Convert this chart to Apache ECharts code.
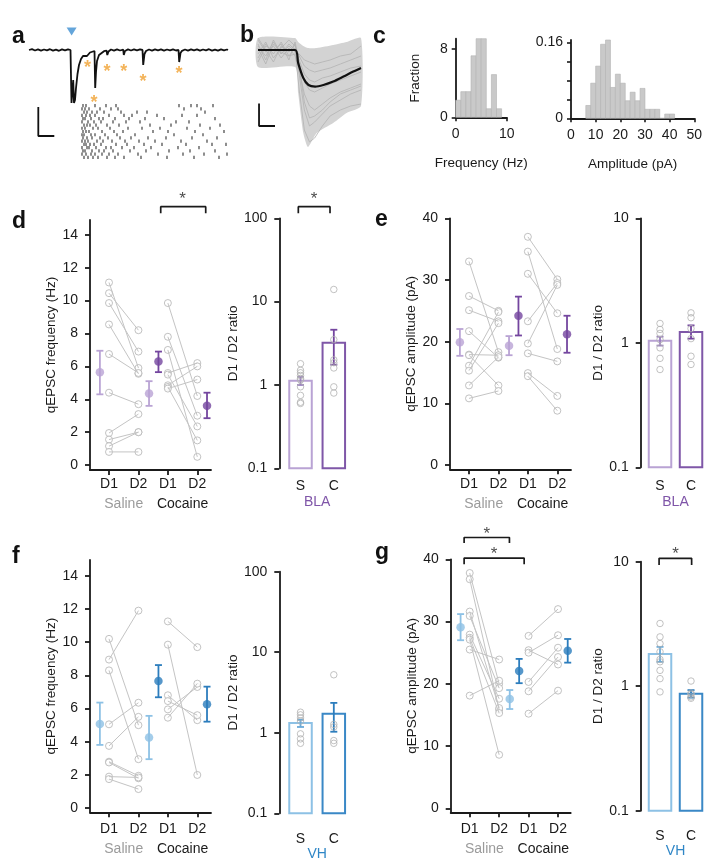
<!DOCTYPE html>
<html><head><meta charset="utf-8">
<script src="https://cdn.jsdelivr.net/npm/echarts@6/dist/echarts.min.js"></script>
<style>html,body{margin:0;padding:0;background:#fff}#c{width:712px;height:860px}</style>
</head><body><div id="c"></div>
<script>
// ================= DATA =================
// panel a: example trace (time units, current units), events and raster
const traceT=[0,3,6,9,12,15,18,21,24,27,30,33,36,39,41.5,42.5,43.5,44.2,45,46,47,48.5,50,52,54,56,58,59,61,63,65.5,66.2,67,68,70,72,75,77.5,78.3,79.5,82,85,88,91,94.2,94.8,96,99,102,105,108,111,113.5,114.2,115.5,117,120,123,126,129,132,135,138,141,144,147,149.5,150.2,151.5,153,156,159,162,165,168,171,174,177,180,183,186,189,192,195,198,199];
const traceV=[0,0.8,-0.5,0.6,-0.7,0.5,-0.4,0.8,-0.6,0.4,-0.8,0.6,-0.3,0.7,0,-53,-53,-30,-53,-50,-38,-24,-15,-9,-6,-4.5,-6,-4,-2.5,-1.5,-1,-38,-22,-11,-5,-3,-1.2,-0.5,-5,-1.5,0.5,-0.6,0.7,-0.5,0.3,-5,-1,0.6,-0.5,0.7,-0.4,0.6,0,-15,-4,-1,0.5,-0.6,0.7,-0.4,0.6,-0.7,0.5,-0.3,0.7,-0.5,0,-12,-3,-0.8,0.5,-0.6,0.7,-0.4,0.6,-0.7,0.5,-0.4,0.8,-0.6,0.4,-0.7,0.6,-0.4,0.5,0];
const stimTime=42.6, stimLevel=18.5;
const eventTimes=[58.4,65,78,94.7,114,150];
const eventStarLevel=[-12.7,-48.3,-16.7,-16.7,-26.7,-19];
const rasterRows=[
 [54,57,66,77,87,150,162,168,184],
 [53,56,60,71,82,89,155,172],
 [55,58,63,68,75,92,108,118,176],
 [53,57,61,66,80,95,103,128,153,168],
 [54,56,62,70,74,86,100,116,135,186],
 [53,59,65,72,84,97,111,147,160],
 [55,58,61,67,78,90,121,142,171,191],
 [53,56,64,69,81,99,113,131,158,181],
 [54,57,60,73,85,94,124,139,166,195],
 [53,55,62,66,76,88,106,145,174],
 [54,58,63,71,79,91,102,119,137,163,188],
 [53,56,59,68,74,83,96,110,126,152,178],
 [55,57,61,65,72,87,98,115,133,157,183,197],
 [53,58,60,67,77,82,93,105,122,149,170],
 [54,56,63,70,75,84,101,117,140,161,186],
 [53,57,62,66,73,80,89,109,129,154,175,198],
 [55,59,64,69,78,86,95,112,138,165,190]
];
const aScaleT=[9.3,9.3,25.3], aScaleV=[-57,-86,-86];
// panel b: overlay of events (ms, pA)
const bEnvT=[0,7.2,7.8,8.8,9.7,11.4,14.6,17.2,20];
const bUpper=[6,6,4,2,1,1,2.5,4,6];
const bLower=[-8.5,-8.5,-21.5,-41.5,-48.5,-41.5,-36.5,-31.5,-28];
const bTrT=[0,1.5,3,4.5,6,7.2,8,9,10,11,12.5,14,16,18,20];
const bTraces=[
 [2,-3,4,-2,3,0,-20,-40,-46,-44,-38,-33,-30,-28,-27],
 [-4,3,-2,4,-3,1,-12,-30,-38,-36,-32,-28,-25,-22,-20],
 [5,-1,2,-4,1,-3,-10,-22,-28,-30,-27,-24,-21,-19,-17],
 [-6,2,0,3,-5,4,-6,-16,-20,-21,-19,-17,-15,-13,-11],
 [3,-5,5,-2,2,-1,-5,-12,-15,-16,-14,-13,-11,-9,-8],
 [-2,4,-4,1,5,2,-3,-8,-10,-11,-10,-9,-7,-5,-3],
 [1,-7,3,-1,-3,-2,-2,-5,-6,-7,-6,-5,-3,-2,2],
 [6,0,-6,2,-1,3,-8,-26,-34,-33,-30,-26,-22,-20,-18]
];
const bMeanT=[0,7.2,7.8,8.8,9.8,11.1,12.7,14.6,16.6,18.5,20];
const bMeanV=[0,0,-6.5,-14,-17.5,-18.3,-17.5,-15.8,-13.3,-10.8,-9];
const bScaleT=[0.2,0.2,3.3], bScaleV=[-26.7,-38,-38];
// panel c: histograms
const freqBinStart=0, freqBinWidth=1;
const freqFraction=[2,3,3,7.2,9.2,9.2,1,5,1];
const ampBinStart=6, ampBinWidth=2;
const ampFraction=[0.027,0.074,0.110,0.156,0.165,0.065,0.093,0.074,0.037,0.055,0.037,0.063,0.019,0.019,0.019,0,0.009,0.009];
// shared labels
const dayLabels=['D1','D2','D1','D2'];
const groupLabels=['Saline','Cocaine'];
const ratioLabels=['S','C'];
// panel d (BLA frequency)
const dSalD1=[11.1,10.45,9.85,8.55,6.75,4.4,1.95,1.55,1.15,0.8];
const dSalD2=[5.9,8.2,6.9,5.55,5.6,3.7,3.1,2.0,2.0,0.8];
const dCocD1=[9.85,7.8,7.0,5.6,5.5,4.85,4.75,4.65];
const dCocD2=[4.2,3.0,0.5,6.2,2.35,6.0,1.5,5.2];
const dMean=[5.65,4.35,6.3,3.6], dLo=[4.3,3.6,5.65,2.85], dHi=[6.95,5.1,6.9,4.4];
const dRatioS=[1.8,1.5,1.4,1.3,1.2,1.15,0.95,0.75,0.62,0.6];
const dRatioC=[14,3.5,2.0,1.85,1.6,0.95,0.8];
const dRatioMean=[1.12,3.2], dRatioLo=[1.0,1.75], dRatioHi=[1.25,4.6];
// panel e (BLA amplitude)
const eSalD1=[33.0,27.4,25.1,21.7,17.9,17.8,16.1,15.3,12.9,10.8];
const eSalD2=[18.3,25.0,23.3,17.4,17.8,12.9,24.8,23.0,17.5,12.0];
const eCocD1=[37.0,34.6,31.0,23.3,19.7,18.1,14.9,14.4];
const eCocD2=[30.1,18.8,24.6,29.5,29.2,16.8,11.2,8.8];
const eMean=[19.9,19.35,24.2,21.2], eLo=[17.7,17.8,21.0,18.2], eHi=[22.05,20.9,27.3,24.2];
const eRatioS=[1.43,1.28,1.19,1.06,0.91,0.75,0.61];
const eRatioC=[1.74,1.59,1.30,1.08,0.78,0.67];
const eRatioMean=[1.04,1.22], eRatioLo=[0.95,1.08], eRatioHi=[1.12,1.38];
// panel f (VH frequency)
const fSalD1=[10.2,8.95,8.3,5.05,3.75,2.8,2.75,1.9,1.75];
const fSalD2=[5.0,11.9,2.95,6.35,5.5,1.95,1.8,1.85,1.15];
const fCocD1=[11.25,9.85,6.8,6.45,5.95,5.45];
const fCocD2=[9.7,2.0,5.3,5.6,7.3,7.5];
const fMean=[5.07,4.25,7.66,6.26], fLo=[3.81,2.95,6.68,5.21], fHi=[6.36,5.56,8.62,7.32];
const fRatioS=[1.8,1.67,1.53,1.4,0.97,0.84,0.74];
const fRatioC=[5.25,1.27,1.18,0.8,0.74];
const fRatioMean=[1.32,1.72], fRatioLo=[1.18,1.03], fRatioHi=[1.45,2.35];
// panel g (VH amplitude)
const gSalD1=[37.8,36.8,31.6,30.9,27.9,27.4,27.1,25.5,18.1];
const gSalD2=[20.0,15.8,16.1,19.3,17.6,15.3,8.6,23.9,20.5];
const gCocD1=[27.7,25.4,25.0,20.3,18.8,15.2];
const gCocD2=[32.0,23.1,27.8,25.8,24.3,18.9];
const gMean=[29.07,17.56,22.06,25.3], gLo=[27.0,15.95,20.1,23.4], gHi=[31.2,19.0,24.0,27.2];
const gRatioS=[3.19,2.49,2.2,1.89,1.64,1.57,1.34,1.15,0.90];
const gRatioC=[1.10,0.88,0.86,0.82,0.80];
const gRatioMean=[1.81,0.87], gRatioLo=[1.57,0.81], gRatioHi=[2.07,0.93];

// ================= STYLE / LAYOUT =================
const FONT='"Liberation Sans", Arial, Helvetica, sans-serif';
const INK='#1a1a1a';
const LP='#b9a3d4', DP='#74469f', LB='#8dc1e5', DB='#2c7dbd', PTC='#b3b3b3', LNC='#c4c4c4';
const X_UNIT=29.43, X_MIN=0.354;
const MEAN_X=[0.69,2.36,2.68,4.33];

const grids=[], xAxes=[], yAxes=[], series=[];
function addGrid(g){ g.outerBoundsMode='none'; g.containLabel=false; return grids.push(g)-1; }

function errRender(color,cap,lw){
  return function(p,api){
    const x=api.value(0), lo=api.value(1), hi=api.value(2);
    const a=api.coord([x,lo]), b=api.coord([x,hi]);
    const st={stroke:color,lineWidth:lw};
    return {type:'group',children:[
      {type:'line',shape:{x1:a[0],y1:a[1],x2:b[0],y2:b[1]},style:st},
      {type:'line',shape:{x1:a[0]-cap,y1:a[1],x2:a[0]+cap,y2:a[1]},style:st},
      {type:'line',shape:{x1:b[0]-cap,y1:b[1],x2:b[0]+cap,y2:b[1]},style:st}]};
  };
}
function bracket(xi,yi,b){
  series.push({type:'line',xAxisIndex:xi,yAxisIndex:yi,data:[[b.x1,b.yLeg],[b.x1,b.yTop],[b.x2,b.yTop],[b.x2,b.yLeg]],
    symbol:'none',clip:false,silent:true,lineStyle:{color:INK,width:1.7},z:5});
  series.push({type:'scatter',xAxisIndex:xi,yAxisIndex:yi,data:[[b.xs,b.ys]],symbolSize:1,clip:false,silent:true,
    itemStyle:{color:'rgba(0,0,0,0)'},label:{show:true,position:'inside',formatter:'*',fontSize:17,color:INK,offset:[0,4],fontFamily:FONT},z:5});
}
function pairData(a,b,x1,x2){ const o=[]; a.forEach((v,i)=>{o.push([x1,v],[x2,b[i]],[x1,'-']);}); return o; }

function pairedPanel(c){
  const gi=addGrid({left:c.left,top:c.top,width:c.width,height:c.height});
  const xmax=X_MIN+c.width/X_UNIT;
  const xi=xAxes.push({gridIndex:gi,type:'value',min:X_MIN,max:xmax,
    axisLine:{show:true,onZero:false,lineStyle:{color:INK,width:1.8}},
    axisTick:{show:true,customValues:[1,2,3,4],length:5,lineStyle:{color:INK,width:1.8}},
    axisLabel:{show:true,customValues:[1,2,3,4],formatter:v=>dayLabels[Math.round(v)-1],fontSize:14,color:INK,margin:c.xm,fontFamily:FONT},
    splitLine:{show:false}})-1;
  xAxes.push({gridIndex:gi,type:'value',min:X_MIN,max:xmax,position:'bottom',offset:20,
    axisLine:{show:false},axisTick:{show:false},splitLine:{show:false},
    axisLabel:{show:true,customValues:[1.5,3.5],margin:c.xm,
      formatter:v=>v<2?'{s|'+groupLabels[0]+'}':'{c|'+groupLabels[1]+'}',
      rich:{s:{color:'#9b9b9b',fontSize:14,fontFamily:FONT},c:{color:INK,fontSize:14,fontFamily:FONT}}}});
  const yi=yAxes.push({gridIndex:gi,type:'value',min:c.ymin,max:c.ymax,
    axisLine:{show:true,onZero:false,lineStyle:{color:INK,width:1.8}},
    axisTick:{show:true,customValues:c.ticks,length:5,lineStyle:{color:INK,width:1.8}},
    axisLabel:{show:true,customValues:c.ticks,fontSize:14,color:INK,margin:12,fontFamily:FONT},
    splitLine:{show:false},name:c.yName,nameLocation:'middle',nameGap:c.ng,
    nameTextStyle:{fontSize:13.5,color:INK,fontFamily:FONT}})-1;
  series.push({type:'line',xAxisIndex:xi,yAxisIndex:yi,data:pairData(c.s1,c.s2,1,2).concat(pairData(c.c1,c.c2,3,4)),
    symbol:'none',connectNulls:false,silent:true,lineStyle:{color:LNC,width:1}});
  series.push({type:'scatter',xAxisIndex:xi,yAxisIndex:yi,silent:true,symbol:'circle',symbolSize:7,
    data:[].concat(c.s1.map(v=>[1,v]),c.s2.map(v=>[2,v]),c.c1.map(v=>[3,v]),c.c2.map(v=>[4,v])),
    itemStyle:{color:'#fff',borderColor:PTC,borderWidth:1}});
  [[0,1,c.light],[2,3,c.dark]].forEach(([i,j,col])=>{
    series.push({type:'custom',xAxisIndex:xi,yAxisIndex:yi,silent:true,
      data:[[MEAN_X[i],c.lo[i],c.hi[i]],[MEAN_X[j],c.lo[j],c.hi[j]]],encode:{x:0,y:[1,2]},
      renderItem:errRender(col,3.5,1.8),z:3});
    series.push({type:'scatter',xAxisIndex:xi,yAxisIndex:yi,silent:true,symbolSize:8.5,
      data:[[MEAN_X[i],c.mean[i]],[MEAN_X[j],c.mean[j]]],itemStyle:{color:col},z:4});
  });
  (c.brackets||[]).forEach(b=>bracket(xi,yi,b));
}

function ratioPanel(c){
  const gi=addGrid({left:c.left,top:c.top,width:c.width,height:c.height});
  const xmax=c.xmin+c.width/c.unit;
  const xi=xAxes.push({gridIndex:gi,type:'value',min:c.xmin,max:xmax,
    axisLine:{show:false},axisTick:{show:false},splitLine:{show:false},
    axisLabel:{show:true,customValues:[1,2],formatter:v=>ratioLabels[Math.round(v)-1],fontSize:14,color:INK,margin:c.xm,fontFamily:FONT}})-1;
  xAxes.push({gridIndex:gi,type:'value',min:c.xmin,max:xmax,position:'bottom',offset:c.ro,
    axisLine:{show:false},axisTick:{show:false},splitLine:{show:false},
    axisLabel:{show:true,customValues:[1.5],formatter:()=>c.region,fontSize:14,color:c.regionColor,margin:c.xm,fontFamily:FONT}});
  const yi=yAxes.push({gridIndex:gi,type:'log',logBase:10,min:0.1,max:c.ymax,
    axisLine:{show:true,onZero:false,lineStyle:{color:INK,width:1.8}},
    axisTick:{show:true,length:5,lineStyle:{color:INK,width:1.8}},
    minorTick:{show:false},splitLine:{show:false},
    axisLabel:{show:true,fontSize:14,color:INK,margin:12,fontFamily:FONT,formatter:v=>String(+(+v).toPrecision(3))},
    name:'D1 / D2 ratio',nameLocation:'middle',nameGap:c.ng,nameTextStyle:{fontSize:13.5,color:INK,fontFamily:FONT}})-1;
  const cols=[c.colS,c.colC];
  series.push({type:'custom',xAxisIndex:xi,yAxisIndex:yi,silent:true,
    data:[[1,c.mean[0],0],[2,c.mean[1],1]],encode:{x:0,y:1},
    renderItem:(p,api)=>{const t=api.coord([api.value(0),api.value(1)]);const b=api.coord([api.value(0),0.1]);const w=22.5;
      return {type:'rect',shape:{x:t[0]-w/2,y:t[1],width:w,height:b[1]-t[1]},style:{fill:'#fff',stroke:cols[api.value(2)],lineWidth:2}};}});
  series.push({type:'scatter',xAxisIndex:xi,yAxisIndex:yi,silent:true,symbolSize:6.5,
    data:[].concat(c.s.map(v=>[1,v]),c.c.map(v=>[2,v])),itemStyle:{color:'rgba(255,255,255,0)',borderColor:PTC,borderWidth:1}});
  series.push({type:'custom',xAxisIndex:xi,yAxisIndex:yi,silent:true,data:[[1,c.lo[0],c.hi[0]]],encode:{x:0,y:[1,2]},renderItem:errRender(c.errS,3.5,1.8)});
  series.push({type:'custom',xAxisIndex:xi,yAxisIndex:yi,silent:true,data:[[2,c.lo[1],c.hi[1]]],encode:{x:0,y:[1,2]},renderItem:errRender(c.errC,3.5,1.8)});
  (c.brackets||[]).forEach(b=>bracket(xi,yi,b));
}

function histPanel(c){
  const gi=addGrid({left:c.left,top:c.top,width:c.width,height:c.height});
  const xi=xAxes.push({gridIndex:gi,type:'value',min:c.xmin,max:c.xmax,
    axisLine:{show:true,onZero:false,lineStyle:{color:INK,width:1.8}},
    axisTick:{show:true,customValues:c.xticks,length:4,lineStyle:{color:INK,width:1.6}},
    axisLabel:{show:true,customValues:c.xticks,fontSize:14,color:INK,margin:10,fontFamily:FONT},
    splitLine:{show:false},name:c.xName,nameLocation:'middle',nameGap:c.xng,nameTextStyle:{fontSize:13.5,color:INK,fontFamily:FONT}})-1;
  const yi=yAxes.push({gridIndex:gi,type:'value',min:0,max:c.ymax,
    axisLine:{show:true,onZero:false,lineStyle:{color:INK,width:1.8}},
    axisTick:{show:true,customValues:c.yticks,length:4,lineStyle:{color:INK,width:1.6}},
    axisLabel:{show:true,customValues:c.ylabels,fontSize:14,color:INK,margin:8,fontFamily:FONT},
    splitLine:{show:false},name:c.yName||'',nameLocation:'middle',nameGap:c.yng||0,nameTextStyle:{fontSize:13.5,color:INK,fontFamily:FONT}})-1;
  series.push({type:'custom',xAxisIndex:xi,yAxisIndex:yi,silent:true,
    data:c.vals.map((v,i)=>[c.start+i*c.bw,c.start+(i+1)*c.bw,v]),encode:{x:[0,1],y:2},
    renderItem:(p,api)=>{const a=api.coord([api.value(0),0]);const b=api.coord([api.value(1),api.value(2)]);
      return {type:'rect',shape:{x:a[0],y:b[1],width:b[0]-a[0],height:a[1]-b[1]},style:{fill:'#c9c9c9',stroke:'#b2b2b2',lineWidth:0.6}};},z:1});
}

// ---- panel a ----
(function(){
  const gi=addGrid({left:29,top:30,width:200,height:110});
  const xi=xAxes.push({gridIndex:gi,type:'value',min:0,max:200,show:false})-1;
  const yi=yAxes.push({gridIndex:gi,type:'value',min:-90,max:20,show:false})-1;
  series.push({type:'line',xAxisIndex:xi,yAxisIndex:yi,data:traceT.map((t,i)=>[t,traceV[i]]),symbol:'none',silent:true,lineStyle:{color:'#111',width:1.8}});
  series.push({type:'scatter',xAxisIndex:xi,yAxisIndex:yi,data:[[stimTime,stimLevel]],symbol:'triangle',symbolRotate:180,symbolSize:[10,8],itemStyle:{color:'#3d8fd1'},silent:true});
  series.push({type:'scatter',xAxisIndex:xi,yAxisIndex:yi,data:eventTimes.map((t,i)=>[t,eventStarLevel[i]]),symbolSize:1,silent:true,
    itemStyle:{color:'rgba(0,0,0,0)'},label:{show:true,position:'inside',formatter:'*',fontSize:18,fontWeight:'bold',color:'#f0a030',offset:[0,5],fontFamily:FONT}});
  series.push({type:'line',xAxisIndex:xi,yAxisIndex:yi,data:aScaleT.map((t,i)=>[t,aScaleV[i]]),symbol:'none',silent:true,lineStyle:{color:'#111',width:1.8}});
  const gr=addGrid({left:29,top:104,width:200,height:55});
  const xr=xAxes.push({gridIndex:gr,type:'value',min:0,max:200,show:false})-1;
  const yr=yAxes.push({gridIndex:gr,type:'value',min:-0.5,max:rasterRows.length-0.5,inverse:true,show:false})-1;
  const rd=[]; rasterRows.forEach((row,r)=>row.forEach(t=>rd.push([t,r])));
  series.push({type:'scatter',xAxisIndex:xr,yAxisIndex:yr,data:rd,symbol:'rect',symbolSize:[1.2,3.2],itemStyle:{color:'#111'},silent:true});
})();
// ---- panel b ----
(function(){
  const gi=addGrid({left:258,top:30,width:103,height:130});
  const xi=xAxes.push({gridIndex:gi,type:'value',min:0,max:20,show:false})-1;
  const yi=yAxes.push({gridIndex:gi,type:'value',min:-55,max:10,show:false})-1;
  series.push({type:'custom',xAxisIndex:xi,yAxisIndex:yi,silent:true,data:[[0,0]],
    renderItem:(p,api)=>{ if(p.dataIndex!==0) return null;
      const pts=bEnvT.map((t,i)=>api.coord([t,bUpper[i]])).concat(bEnvT.map((t,i)=>api.coord([t,bLower[i]])).reverse());
      return {type:'polygon',shape:{points:pts,smooth:0.2},style:{fill:'#d3d3d3'}}; }});
  bTraces.forEach(tr=>series.push({type:'line',xAxisIndex:xi,yAxisIndex:yi,data:bTrT.map((t,i)=>[t,tr[i]]),symbol:'none',silent:true,lineStyle:{color:'#b3b3b3',width:0.8}}));
  series.push({type:'line',xAxisIndex:xi,yAxisIndex:yi,data:bMeanT.map((t,i)=>[t,bMeanV[i]]),symbol:'none',smooth:0.3,silent:true,lineStyle:{color:'#111',width:2.2}});
  series.push({type:'line',xAxisIndex:xi,yAxisIndex:yi,data:bScaleT.map((t,i)=>[t,bScaleV[i]]),symbol:'none',silent:true,lineStyle:{color:'#111',width:1.8}});
})();
// ---- panel c ----
histPanel({left:455.7,top:38.7,width:51,height:78.6,xmin:0,xmax:10,ymax:9.2,xticks:[0,10],yticks:[0,8],ylabels:[0,8],
  vals:freqFraction,start:freqBinStart,bw:freqBinWidth,xName:'Frequency (Hz)',xng:39,yName:'Fraction',yng:33});
histPanel({left:571,top:40,width:123.3,height:78.3,xmin:0,xmax:50,ymax:0.165,xticks:[0,10,20,30,40,50],yticks:[0,0.04,0.08,0.12,0.16],ylabels:[0,0.16],
  vals:ampFraction,start:ampBinStart,bw:ampBinWidth,xName:'Amplitude (pA)',xng:39});
// ---- panel d ----
pairedPanel({left:90,top:220,width:121,height:250,ymin:-0.3,ymax:14.9,ticks:[0,2,4,6,8,10,12,14],yName:'qEPSC frequency (Hz)',ng:30,xm:7,
  s1:dSalD1,s2:dSalD2,c1:dCocD1,c2:dCocD2,mean:dMean,lo:dLo,hi:dHi,light:LP,dark:DP,
  brackets:[{x1:2.757,x2:4.286,yTop:15.71,yLeg:15.31,xs:3.5,ys:16.42}]});
ratioPanel({left:279.3,top:218.3,width:70,height:250,xmin:0.363,unit:33.3,ymax:100,ng:31,xm:11,ro:16,
  s:dRatioS,c:dRatioC,mean:dRatioMean,lo:dRatioLo,hi:dRatioHi,colS:LP,colC:'#7f57a8',errS:'#9a7fc0',errC:DP,region:'BLA',regionColor:'#7f55a8',
  brackets:[{x1:0.934,x2:1.886,yTop:137.7,yLeg:114.8,xs:1.405,ys:190}]});
// ---- panel e ----
pairedPanel({left:450,top:218.3,width:121,height:251,ymin:-0.7,ymax:40,ticks:[0,10,20,30,40],yName:'qEPSC amplitude (pA)',ng:30,xm:8,
  s1:eSalD1,s2:eSalD2,c1:eCocD1,c2:eCocD2,mean:eMean,lo:eLo,hi:eHi,light:LP,dark:DP});
ratioPanel({left:640.7,top:218.3,width:66,height:249,xmin:0.377,unit:31,ymax:10,ng:35,xm:12,ro:16,
  s:eRatioS,c:eRatioC,mean:eRatioMean,lo:eRatioLo,hi:eRatioHi,colS:LP,colC:'#7f57a8',errS:'#9a7fc0',errC:DP,region:'BLA',regionColor:'#7f55a8'});
// ---- panel f ----
pairedPanel({left:90,top:560,width:121,height:252.3,ymin:-0.25,ymax:14.95,ticks:[0,2,4,6,8,10,12,14],yName:'qEPSC frequency (Hz)',ng:30,xm:10,
  s1:fSalD1,s2:fSalD2,c1:fCocD1,c2:fCocD2,mean:fMean,lo:fLo,hi:fHi,light:LB,dark:DB});
ratioPanel({left:279.3,top:571.7,width:70,height:241.6,xmin:0.363,unit:33.3,ymax:100,ng:31,xm:19,ro:15,
  s:fRatioS,c:fRatioC,mean:fRatioMean,lo:fRatioLo,hi:fRatioHi,colS:LB,colC:'#3a88c6',errS:'#6aaad8',errC:DB,region:'VH',regionColor:'#2f86c6'});
// ---- panel g ----
pairedPanel({left:450.7,top:559.3,width:120,height:253,ymin:-0.64,ymax:40,ticks:[0,10,20,30,40],yName:'qEPSC amplitude (pA)',ng:30,xm:10,
  s1:gSalD1,s2:gSalD2,c1:gCocD1,c2:gCocD2,mean:gMean,lo:gLo,hi:gHi,light:LB,dark:DB,
  brackets:[{x1:0.81,x2:2.35,yTop:43.5,yLeg:42.6,xs:1.58,ys:44.7},{x1:0.81,x2:2.85,yTop:40.2,yLeg:39.2,xs:1.83,ys:41.4}]});
ratioPanel({left:640.7,top:561.7,width:66,height:249,xmin:0.377,unit:31,ymax:10,ng:35,xm:18,ro:15,
  s:gRatioS,c:gRatioC,mean:gRatioMean,lo:gRatioLo,hi:gRatioHi,colS:LB,colC:'#3a88c6',errS:'#6aaad8',errC:DB,region:'VH',regionColor:'#2f86c6',
  brackets:[{x1:0.97,x2:2.02,yTop:10.65,yLeg:9.41,xs:1.5,ys:12.4}]});

// panel letters
const letters=[['a',12,25],['b',240,24],['c',373,25],['d',12,210],['e',375,208],['f',12,545],['g',375,541]];
const graphic=letters.map(([t,x,y])=>({type:'text',x:x,y:y,silent:true,
  style:{text:t,fill:'#111',font:'bold 23px "Liberation Sans", Arial, sans-serif',align:'left',verticalAlign:'alphabetic'}}));

const chart=echarts.init(document.getElementById('c'),null,{renderer:'canvas',width:712,height:860});
chart.setOption({animation:false,backgroundColor:'#fff',textStyle:{fontFamily:FONT},
  grid:grids,xAxis:xAxes,yAxis:yAxes,series:series,graphic:graphic});
</script></body></html>
